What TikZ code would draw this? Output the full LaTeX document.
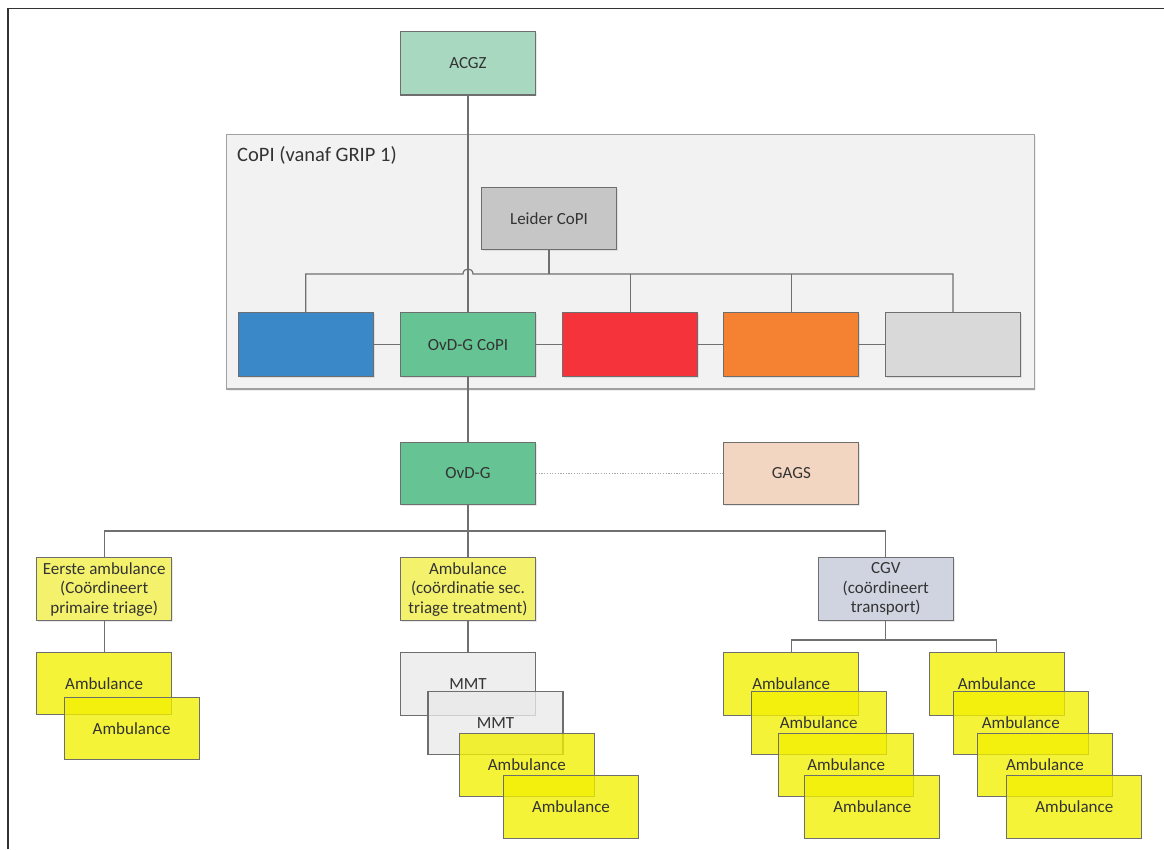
\documentclass[tikz,border=0pt]{standalone}
\usepackage{fontspec}
\setmainfont{Carlito}
\usetikzlibrary{calc,shadows}
\definecolor{txt}{HTML}{333333}
\definecolor{lnc}{HTML}{707070}
\definecolor{bdr}{HTML}{6E6E6E}
\definecolor{mint}{HTML}{A8D8BF}
\definecolor{cont}{HTML}{F2F2F2}
\definecolor{contb}{HTML}{A0A0A0}
\definecolor{leid}{HTML}{C6C6C6}
\definecolor{bblue}{HTML}{3A88C8}
\definecolor{bgreen}{HTML}{66C394}
\definecolor{bred}{HTML}{F5333A}
\definecolor{borange}{HTML}{F58233}
\definecolor{bgray}{HTML}{D9D9D9}
\definecolor{peach}{HTML}{F3D6C1}
\definecolor{lyellow}{HTML}{F4F26C}
\definecolor{yell}{HTML}{F2F000}
\definecolor{mmtc}{HTML}{EAEAEA}
\definecolor{lav}{HTML}{D0D4E0}
\tikzset{
  box/.style={draw=bdr, line width=1.1pt, minimum width=135, minimum height=62.5,
    inner sep=0pt, align=center, text=txt, font=\fontsize{17}{19.5}\selectfont,
    drop shadow={opacity=0.18, shadow xshift=1.5pt, shadow yshift=-1.5pt}},
  tbox/.style={draw=bdr, line width=1.1pt, minimum width=135, minimum height=62.5,
    inner sep=0pt, align=center, text=txt, font=\fontsize{17}{19.5}\selectfont,
    fill opacity=0.78, text opacity=1},
  amb/.style={tbox, fill=yell},
  mmt/.style={tbox, fill=mmtc},
  conn/.style={draw=lnc, line width=1.2pt},
}
\begin{document}
\begin{tikzpicture}[x=1pt, y=-1pt]
\useasboundingbox (0,0) rectangle (1164,849);
\fill[white] (0,0) rectangle (1164,849);
% outer frame
\draw[line width=1.8pt, draw=black!80] (8,849) -- (8,8.5) -- (1164,8.5);

% CoPI container
\node[draw=contb, fill=cont, line width=1.2pt, minimum width=808, minimum height=254.7, inner sep=0pt,
  drop shadow={opacity=0.12, shadow xshift=1.5pt, shadow yshift=-1.5pt}] (copi) at (630.5,261.7) {};
\node[anchor=west, text=txt, font=\fontsize{20.5}{24}\selectfont, inner sep=0pt] (copilabel) at (237,155) {CoPI (vanaf GRIP 1)};

% coordinates for buses
\coordinate (bus1) at (0,274);
\coordinate (bus2) at (0,531);
\coordinate (bus3) at (0,640);

% nodes
\node[box, fill=mint, minimum height=63.3] (acgz) at (468,63.3) {ACGZ};
\node[box, fill=leid, minimum width=135.6] (leider) at (549,218.3) {Leider CoPI};
\node[box, fill=bblue, minimum height=64] (blue) at (305.8,344.7) {};
\node[box, fill=bgreen, minimum height=64] (ovdgcopi) at (468,344.7) {OvD-G CoPI};
\node[box, fill=bred, minimum height=64] (red) at (630.4,344.7) {};
\node[box, fill=borange, minimum height=64] (orange) at (791.4,344.7) {};
\node[box, fill=bgray, minimum height=64] (gray) at (953,344.7) {};

\node[box, fill=bgreen] (ovdg) at (468,473.3) {OvD-G};
\node[box, fill=peach] (gags) at (791.3,473.3) {GAGS};

\node[box, fill=lyellow, minimum height=63] (eerste) at (104.2,589.2) {Eerste ambulance\\(Coördineert\\primaire triage)};
\node[box, fill=lyellow, minimum height=63] (ambco) at (468,589.2) {Ambulance\\(coördinatie sec.\\triage treatment)};
\node[box, fill=lav, minimum height=63] (cgv) at (885.8,589.2) {CGV\\(coördineert\\transport)};

% connectors (drawn before stacks)
\draw[conn] (acgz.south) -- (ovdgcopi.north);
\coordinate (hopL) at ($(ovdgcopi.north |- bus1)+(-5,0)$);
\coordinate (hopR) at ($(ovdgcopi.north |- bus1)+(5,0)$);
\draw[conn] (blue.north) -- (blue.north |- bus1) -- (hopL)
  .. controls ($(hopL)+(0,-6.7)$) and ($(hopR)+(0,-6.7)$) .. (hopR)
  -- (gray.north |- bus1) -- (gray.north);
\draw[conn] (leider.south) -- (leider.south |- bus1);
\draw[conn] (red.north) -- (red.north |- bus1);
\draw[conn] (orange.north) -- (orange.north |- bus1);
\draw[conn] (blue.east) -- (ovdgcopi.west);
\draw[conn] (ovdgcopi.east) -- (red.west);
\draw[conn] (red.east) -- (orange.west);
\draw[conn] (orange.east) -- (gray.west);

\draw[conn] (ovdgcopi.south) -- (ovdg.north);
\draw[draw=lnc!60, line width=0.9pt, dash pattern=on 1.2pt off 1.5pt] (ovdg.east) -- (gags.west);
\draw[conn] (ovdg.south) -- (ambco.north);
\draw[conn] (eerste.north) -- (eerste.north |- bus2) -- (cgv.north |- bus2) -- (cgv.north);

% left stack
\node[amb] (l1) at (104.2,683.5) {Ambulance};
\node[amb] (l2) at (131.7,728.3) {Ambulance};
\draw[conn] (eerste.south) -- (l1.north);

% middle stack
\node[mmt] (m1) at (468,683.8) {MMT};
\node[mmt] (m2) at (495.5,723) {MMT};
\node[amb] (m3) at (526.8,765) {Ambulance};
\node[amb] (m4) at (571,806.8) {Ambulance};
\draw[conn] (ambco.south) -- (m1.north);

% right stacks
\node[amb] (a1) at (791.2,683.8) {Ambulance};
\node[amb] (a2) at (818.7,722.8) {Ambulance};
\node[amb] (a3) at (846.2,765) {Ambulance};
\node[amb] (a4) at (872.3,806.8) {Ambulance};
\node[amb] (b1) at (996.8,683.8) {Ambulance};
\node[amb] (b2) at (1020.8,722.8) {Ambulance};
\node[amb] (b3) at (1045,765) {Ambulance};
\node[amb] (b4) at (1074.3,806.8) {Ambulance};
\draw[conn] (cgv.south) -- (cgv.south |- bus3);
\draw[conn] (a1.north) -- (a1.north |- bus3) -- (b1.north |- bus3) -- (b1.north);
\end{tikzpicture}
\end{document}
